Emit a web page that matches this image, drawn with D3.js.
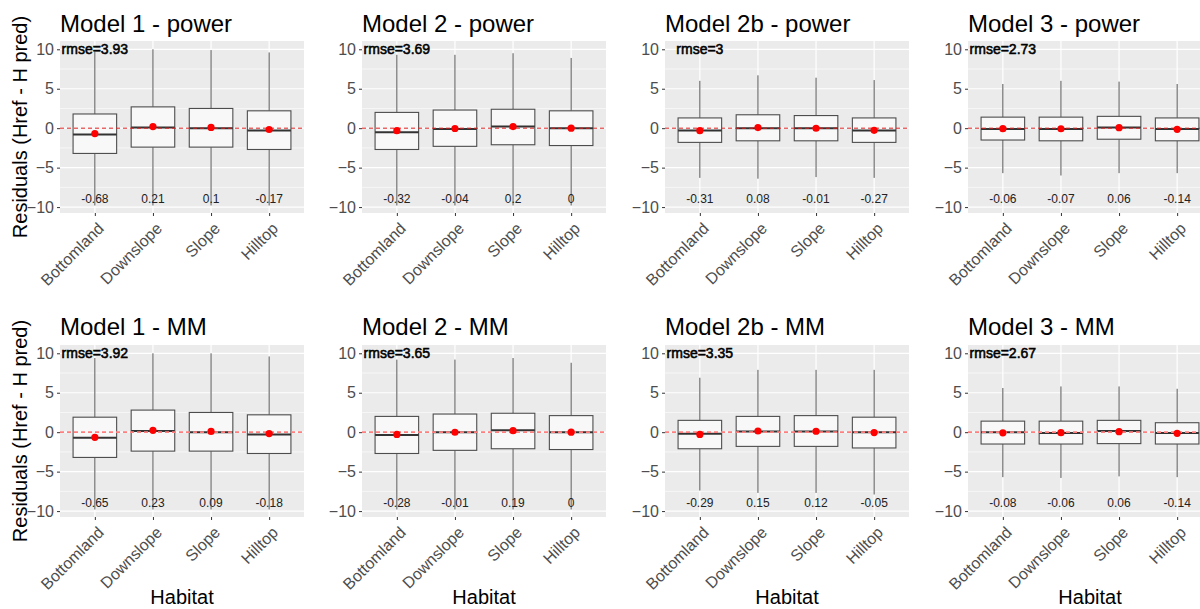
<!DOCTYPE html>
<html>
<head>
<meta charset="utf-8">
<script src="https://d3js.org/d3.v7.min.js"></script>
<style>
  body { margin: 0; background: #fff; }
  text { font-family: "Liberation Sans", Arial, sans-serif; }
</style>
</head>
<body>
<svg width="1200" height="609"></svg>
<script>
var habitats = ["Bottomland", "Downslope", "Slope", "Hilltop"];
var models = ["Model 1", "Model 2", "Model 2b", "Model 3"];
var methods = ["power", "MM"];
var rmsePower = [3.93, 3.69, 3, 2.73];
var rmseMM = [3.92, 3.65, 3.35, 2.67];
var yTicks = [-10, -5, 0, 5, 10];

// one row per panel: power row (models 1..3), then MM row
var whiskerLow = [
  [-9.8, -9.8, -9.8, -9.8],
  [-9.8, -9.8, -9.8, -9.8],
  [-6.3, -6.4, -6.2, -6.3],
  [-5.7, -6.0, -5.7, -5.7],
  [-9.8, -9.8, -9.8, -9.8],
  [-9.8, -9.8, -9.8, -9.8],
  [-7.4, -7.7, -7.7, -7.9],
  [-5.7, -5.8, -5.6, -5.7]
];
var q1 = [
  [-3.2, -2.4, -2.4, -2.7],
  [-2.7, -2.3, -2.1, -2.2],
  [-1.8, -1.6, -1.6, -1.8],
  [-1.5, -1.6, -1.4, -1.6],
  [-3.2, -2.4, -2.4, -2.7],
  [-2.7, -2.3, -2.1, -2.2],
  [-2.1, -1.8, -1.8, -2.0],
  [-1.5, -1.5, -1.45, -1.5]
];
var medians = [
  [-0.8, 0.1, 0, -0.3],
  [-0.5, -0.1, 0.2, 0],
  [-0.3, 0, 0, -0.3],
  [-0.1, -0.1, 0.1, -0.1],
  [-0.7, 0.15, 0, -0.3],
  [-0.35, 0, 0.25, 0],
  [-0.2, 0.1, 0.1, 0],
  [0, -0.1, 0.15, -0.1]
];
var q3 = [
  [1.8, 2.7, 2.5, 2.2],
  [2.0, 2.3, 2.4, 2.2],
  [1.3, 1.7, 1.6, 1.3],
  [1.4, 1.4, 1.5, 1.3],
  [1.9, 2.8, 2.5, 2.2],
  [2.0, 2.3, 2.4, 2.1],
  [1.5, 2.0, 2.1, 1.9],
  [1.4, 1.4, 1.5, 1.2]
];
var whiskerHigh = [
  [9.7, 10, 9.9, 9.6],
  [9.3, 9.3, 9.5, 8.9],
  [6.0, 6.7, 6.4, 6.1],
  [5.6, 6.0, 5.9, 5.6],
  [9.4, 10, 10, 9.6],
  [9.2, 9.2, 9.4, 8.8],
  [6.9, 7.9, 7.9, 7.9],
  [5.6, 5.8, 5.8, 5.5]
];
var means = [
  [-0.68, 0.21, 0.1, -0.17],
  [-0.32, -0.04, 0.2, 0],
  [-0.31, 0.08, -0.01, -0.27],
  [-0.06, -0.07, 0.06, -0.14],
  [-0.65, 0.23, 0.09, -0.18],
  [-0.28, -0.01, 0.19, 0],
  [-0.29, 0.15, 0.12, -0.05],
  [-0.08, -0.06, 0.06, -0.14]
];

var svg = d3.select("svg");
var panelLeft = [60, 362, 665, 968];
var panelTop = [41, 345];
var pw = 244, ph = 172;

methods.forEach(function(method, r) {
  models.forEach(function(model, c) {
    var idx = r * 4 + c;
    var g = svg.append("g")
      .attr("transform", "translate(" + panelLeft[c] + "," + panelTop[r] + ")");

    var x = d3.scalePoint().domain(habitats).range([0, pw]).padding(0.6);
    var step = x.step();
    var y = d3.scaleLinear().domain([-10.75, 11.05]).range([ph, 0]);

    // panel background + grid
    g.append("rect").attr("width", pw).attr("height", ph).attr("fill", "#ebebeb");
    var minor = [-7.5, -2.5, 2.5, 7.5];
    g.selectAll(".minor").data(minor).enter().append("line")
      .attr("x1", 0).attr("x2", pw)
      .attr("y1", d => y(d)).attr("y2", d => y(d))
      .attr("stroke", "#fff").attr("stroke-width", 0.6);
    g.selectAll(".hmaj").data(yTicks).enter().append("line")
      .attr("x1", 0).attr("x2", pw)
      .attr("y1", d => y(d)).attr("y2", d => y(d))
      .attr("stroke", "#fff").attr("stroke-width", 1.2);
    g.selectAll(".vmaj").data(habitats).enter().append("line")
      .attr("y1", 0).attr("y2", ph)
      .attr("x1", d => x(d)).attr("x2", d => x(d))
      .attr("stroke", "#fff").attr("stroke-width", 1.2);

    // boxes
    var bw = step * 0.75;
    var boxes = g.selectAll(".box").data(habitats).enter().append("g");
    boxes.append("line")
      .attr("x1", d => x(d)).attr("x2", d => x(d))
      .attr("y1", (d, i) => y(whiskerHigh[idx][i]))
      .attr("y2", (d, i) => y(q3[idx][i]))
      .attr("stroke", "#555").attr("stroke-width", 1);
    boxes.append("line")
      .attr("x1", d => x(d)).attr("x2", d => x(d))
      .attr("y1", (d, i) => y(q1[idx][i]))
      .attr("y2", (d, i) => y(whiskerLow[idx][i]))
      .attr("stroke", "#555").attr("stroke-width", 1);
    boxes.append("rect")
      .attr("x", d => x(d) - bw / 2).attr("width", bw)
      .attr("y", (d, i) => y(q3[idx][i]))
      .attr("height", (d, i) => y(q1[idx][i]) - y(q3[idx][i]))
      .attr("fill", "#f8f8f8").attr("stroke", "#4d4d4d").attr("stroke-width", 1.1);
    boxes.append("line")
      .attr("x1", d => x(d) - bw / 2).attr("x2", d => x(d) + bw / 2)
      .attr("y1", (d, i) => y(medians[idx][i]))
      .attr("y2", (d, i) => y(medians[idx][i]))
      .attr("stroke", "#333").attr("stroke-width", 2);

    // zero reference line
    g.append("line")
      .attr("x1", 0).attr("x2", pw).attr("y1", y(0)).attr("y2", y(0))
      .attr("stroke", r === 0 ? "#e02020" : "#ff7f7f")
      .attr("stroke-width", r === 0 ? 1 : 1.8)
      .attr("stroke-dasharray", "4,3");

    // mean points
    g.selectAll(".mean").data(habitats).enter().append("circle")
      .attr("cx", d => x(d))
      .attr("cy", (d, i) => y(means[idx][i]))
      .attr("r", 3.6).attr("fill", "red");

    // mean labels
    g.selectAll(".mlab").data(habitats).enter().append("text")
      .attr("x", d => x(d)).attr("y", y(-9))
      .attr("dy", "0.35em").attr("text-anchor", "middle")
      .attr("font-size", 12).attr("fill", "#222")
      .text((d, i) => means[idx][i]);

    // rmse label
    var rm = r === 0 ? rmsePower[c] : rmseMM[c];
    g.append("text")
      .attr("x", x(habitats[0])).attr("y", y(10))
      .attr("dy", "0.35em").attr("text-anchor", "middle")
      .attr("font-size", 14).attr("fill", "#000")
      .attr("stroke", "#000").attr("stroke-width", 0.55)
      .text("rmse=" + rm);

    // y axis
    var ya = g.append("g").call(d3.axisLeft(y).tickValues(yTicks).tickSize(3).tickPadding(3));
    ya.select(".domain").remove();
    ya.selectAll(".tick line").attr("stroke", "#333");
    ya.selectAll(".tick text").attr("font-size", 16).attr("fill", "#4d4d4d")
      .style("font-family", "'Liberation Sans', Arial, sans-serif");

    // x axis
    var xa = g.append("g").attr("transform", "translate(0," + ph + ")")
      .call(d3.axisBottom(x).tickSize(3));
    xa.select(".domain").remove();
    xa.selectAll(".tick line").attr("stroke", "#333");
    xa.selectAll(".tick text")
      .attr("font-size", 16).attr("fill", "#4d4d4d")
      .style("font-family", "'Liberation Sans', Arial, sans-serif")
      .attr("text-anchor", "end")
      .attr("y", 0).attr("dy", "0.75em")
      .attr("transform", "translate(1,8) rotate(-45)");

    // title
    g.append("text")
      .attr("x", 0).attr("y", r === 0 ? -9 : -10)
      .attr("font-size", 24).attr("fill", "#000")
      .text(model + " - " + method);

    // axis titles
    if (c === 0) {
      g.append("text")
        .attr("transform", "translate(-33," + (ph / 2) + ") rotate(-90)")
        .attr("text-anchor", "middle")
        .attr("font-size", 20).attr("fill", "#000")
        .text("Residuals (Href - H pred)");
    }
    if (r === 1) {
      g.append("text")
        .attr("x", pw / 2).attr("y", 604 - panelTop[r])
        .attr("text-anchor", "middle")
        .attr("font-size", 20).attr("fill", "#000")
        .text("Habitat");
    }
  });
});
</script>
</body>
</html>
